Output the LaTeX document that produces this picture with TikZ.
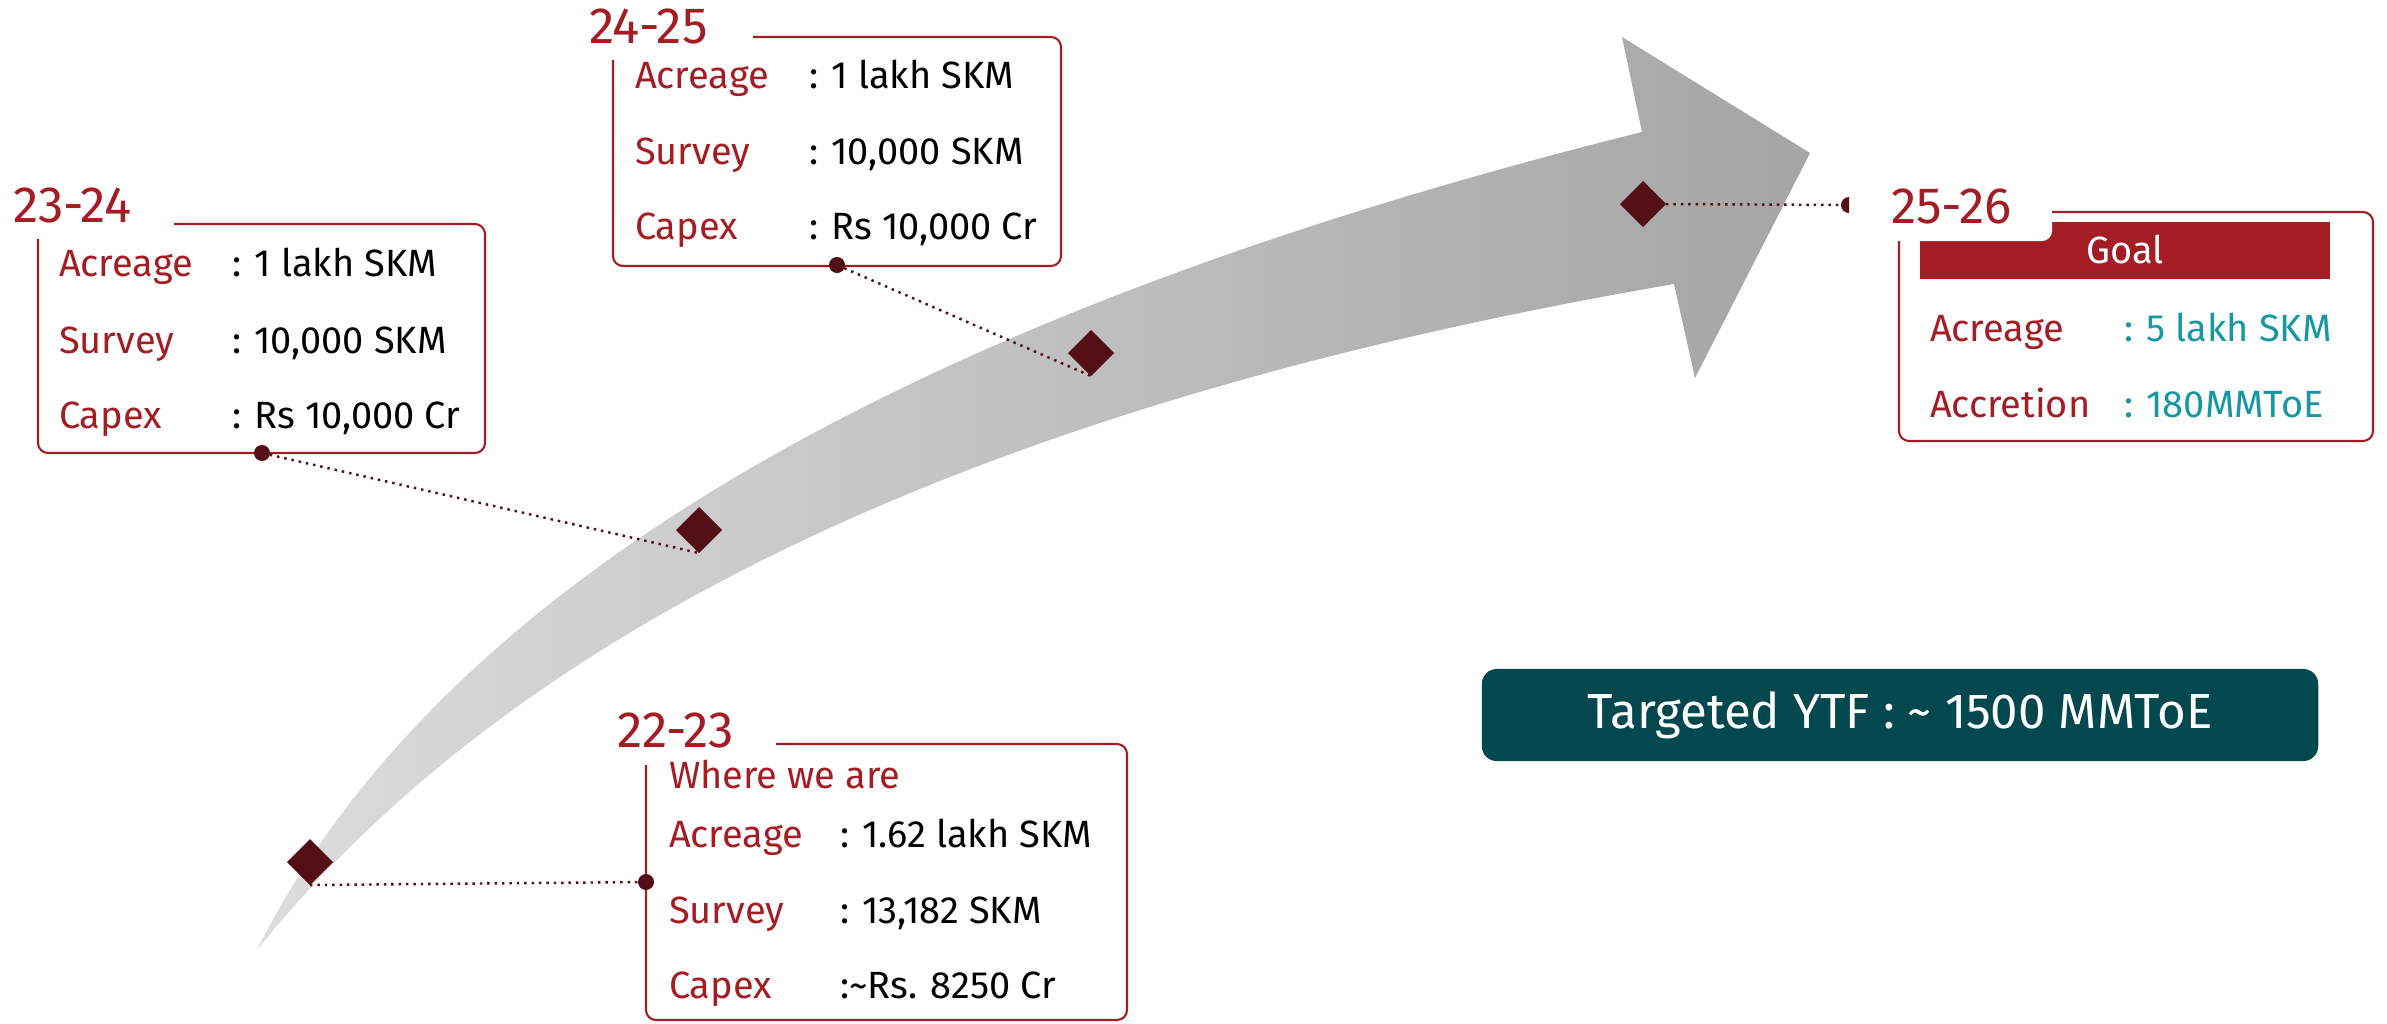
\documentclass[tikz,border=0pt]{standalone}
\usepackage{fontspec}
\setmainfont{Fira Sans}
\usepackage{xcolor}
\usepackage{tikz}
\usetikzlibrary{arrows.meta,positioning,shapes.geometric,calc}

\definecolor{tlred}{HTML}{A51D24}
\definecolor{tlmaroon}{HTML}{530F15}
\definecolor{tlteal}{HTML}{1796A4}
\definecolor{tldark}{HTML}{03484F}
\definecolor{arrowlight}{HTML}{DCDCDC}
\definecolor{arrowdark}{HTML}{A5A5A5}

\begin{document}
\begin{tikzpicture}[
  x=0.01cm, y=-0.01cm,
  year/.style={text=tlred, font=\fontsize{14.5}{16}\selectfont, anchor=base west, inner sep=0pt},
  key/.style={text=tlred, font=\fontsize{10.8}{12}\selectfont, anchor=base west, inner sep=0pt},
  val/.style={text=black, font=\fontsize{10.8}{12}\selectfont, anchor=base west, inner sep=0pt},
  goalval/.style={val, text=tlteal},
  frame/.style={draw=tlred, line width=0.6pt, rounded corners=0.1cm},
  milestone/.style={diamond, fill=tlmaroon, inner sep=0pt, minimum size=0.46cm},
  pin/.style={circle, fill=tlmaroon, inner sep=0pt, minimum size=0.16cm},
  leader/.style={draw=tlmaroon, line width=0.7pt, dash pattern=on 0.7pt off 1.4pt},
  every node/.style={outer sep=0pt}
]
  \useasboundingbox (0,0) rectangle (2387,1023);

  % Curved growth arrow
  \shade[left color=arrowlight, right color=arrowdark]
    (257,950) .. controls (437,590) and (899,317) .. (1642,132)
    -- (1622,37) -- (1810,153) -- (1695,378) -- (1674,284)
    .. controls (992,401) and (520,622) .. (257,950) -- cycle;

  % Goal bar (with notch for the year)
  \fill[tlred] (1920,222) rectangle (2330,279);
  \fill[white, rounded corners=0.1cm] (1880,180) rectangle (2052,241);

  % Frames (open at the top left for the year)
  \draw[frame] (174,224) -- (485,224) -- (485,453) -- (38,453) -- (38,239);
  \draw[frame] (753,37) -- (1061,37) -- (1061,266) -- (613,266) -- (613,60);
  \draw[frame] (776,744) -- (1127,744) -- (1127,1020) -- (646,1020) -- (646,765);
  \draw[frame] (2052,212) -- (2373,212) -- (2373,441) -- (1899,441) -- (1899,241);

  % 22-23
  \node[year] (y2223) at (617,747) {22-23};
  \node[key] (w2223) at (669,788) {Where we are};
  \node[key] (a2223) at (669,847) {Acreage};
  \node[val] (av2223) at (840,847) {: 1.62 lakh SKM};
  \node[key] (s2223) at (669,923) {Survey};
  \node[val] (sv2223) at (840,923) {: 13,182 SKM};
  \node[key] (c2223) at (669,998) {Capex};
  \node[val] (cv2223) at (840,998) {:\textasciitilde Rs. 8250 Cr};

  % 23-24
  \node[year] (y2324) at (13,222) {23-24};
  \node[key] (a2324) at (59,276) {Acreage};
  \node[val] (av2324) at (232,276) {: 1 lakh SKM};
  \node[key] (s2324) at (59,353) {Survey};
  \node[val] (sv2324) at (232,353) {: 10,000 SKM};
  \node[key] (c2324) at (59,428) {Capex};
  \node[val] (cv2324) at (232,428) {: Rs 10,000 Cr};

  % 24-25
  \node[year] (y2425) at (589,43) {24-25};
  \node[key] (a2425) at (635,88) {Acreage};
  \node[val] (av2425) at (809,88) {: 1 lakh SKM};
  \node[key] (s2425) at (635,164) {Survey};
  \node[val] (sv2425) at (809,164) {: 10,000 SKM};
  \node[key] (c2425) at (635,239) {Capex};
  \node[val] (cv2425) at (809,239) {: Rs 10,000 Cr};

  % 25-26
  \node[year] (y2526) at (1891,223) {25-26};
  \node[val, text=white, anchor=base] (goal) at (2125,263) {Goal};
  \node[key] (a2526) at (1930,341) {Acreage};
  \node[goalval] (av2526) at (2124,341) {: 5 lakh SKM};
  \node[key] (r2526) at (1930,417) {Accretion};
  \node[goalval] (rv2526) at (2124,417) {: 180MMToE};

  % Target
  \node[fill=tldark, rounded corners=0.15cm, minimum width=8.36cm, minimum height=0.92cm,
        text=white, font=\fontsize{14}{16}\selectfont] (ytf) at (1900,715)
        {Targeted YTF : \textasciitilde{} 1500 MMToE};

  % Milestones on the arrow
  \node[milestone] (d2223) at (310,862) {};
  \node[milestone] (d2324) at (699,530) {};
  \node[milestone] (d2425) at (1091,353) {};
  \node[milestone] (d2526) at (1643,204) {};

  % Pins on the frames
  \node[pin] (p2223) at (646,882) {};
  \node[pin] (p2324) at (262,453) {};
  \node[pin] (p2425) at (837,265) {};
  \coordinate (p2526) at (1849,205);
  \fill[tlmaroon] (1849,197) arc[start angle=90, end angle=270, radius=0.08cm] -- cycle;

  % Leaders
  \draw[leader] (d2223.south) -- (p2223);
  \draw[leader] (p2324) -- (d2324.south);
  \draw[leader] (p2425) -- (d2425.south);
  \draw[leader] (d2526.east) -- (p2526);
\end{tikzpicture}
\end{document}
